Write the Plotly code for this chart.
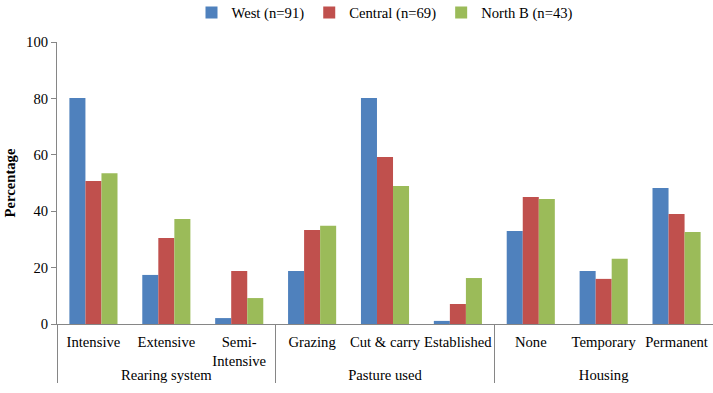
import plotly.graph_objects as go

groups = ["Rearing system"] * 3 + ["Pasture used"] * 3 + ["Housing"] * 3
categories = ["Intensive", "Extensive", "Semi-<br>Intensive",
              "Grazing", "Cut & carry", "Established",
              "None", "Temporary", "Permanent"]
west = [80.1, 17.4, 2.1, 18.8, 80.1, 1.1, 33.0, 18.8, 48.2]
central = [50.7, 30.5, 18.8, 33.3, 59.2, 7.1, 45.0, 16.0, 39.0]
north_b = [53.5, 37.2, 9.2, 34.8, 48.9, 16.3, 44.3, 23.1, 32.6]
series_names = ["West (n=91)", "Central (n=69)", "North B (n=43)"]
colors = ["#4F81BD", "#C0504D", "#9BBB59"]

fig = go.Figure()
for name, vals, c in zip(series_names, [west, central, north_b], colors):
    fig.add_trace(go.Bar(x=[groups, categories], y=vals, name=name,
                         marker=dict(color=c, line=dict(width=0))))

font = "Liberation Serif, Times New Roman, serif"
fs = 14.67
fig.update_layout(
    width=713, height=393,
    margin=dict(l=57, r=0, t=42, b=69, autoexpand=False),
    paper_bgcolor="white", plot_bgcolor="white",
    barmode="group", bargap=0.34, bargroupgap=0,
    font=dict(family=font, size=fs, color="black"),
    legend=dict(orientation="h", x=0.5, xanchor="center", y=1.103, yanchor="middle",
                font=dict(size=fs), tracegroupgap=0),
)
fig.update_xaxes(type="multicategory", showline=True, linecolor="#868686", linewidth=1,
                 ticks="", showgrid=False, dividercolor="#868686", dividerwidth=1,
                 tickangle=0, ticklabelstandoff=4,
                 tickfont=dict(size=fs, family=font), automargin=False)
fig.update_yaxes(range=[0, 100], dtick=20, showline=True, linecolor="#868686", linewidth=1,
                 ticks="outside", ticklen=5, tickcolor="#868686", showgrid=False,
                 zeroline=False, tickfont=dict(size=fs, family=font),
                 title=dict(text="<b>Percentage</b>", font=dict(size=fs, family=font), standoff=6),
                 automargin=False)
fig.write_html("out.html", config={"displayModeBar": False},
               post_script="document.body.style.margin='0';")
